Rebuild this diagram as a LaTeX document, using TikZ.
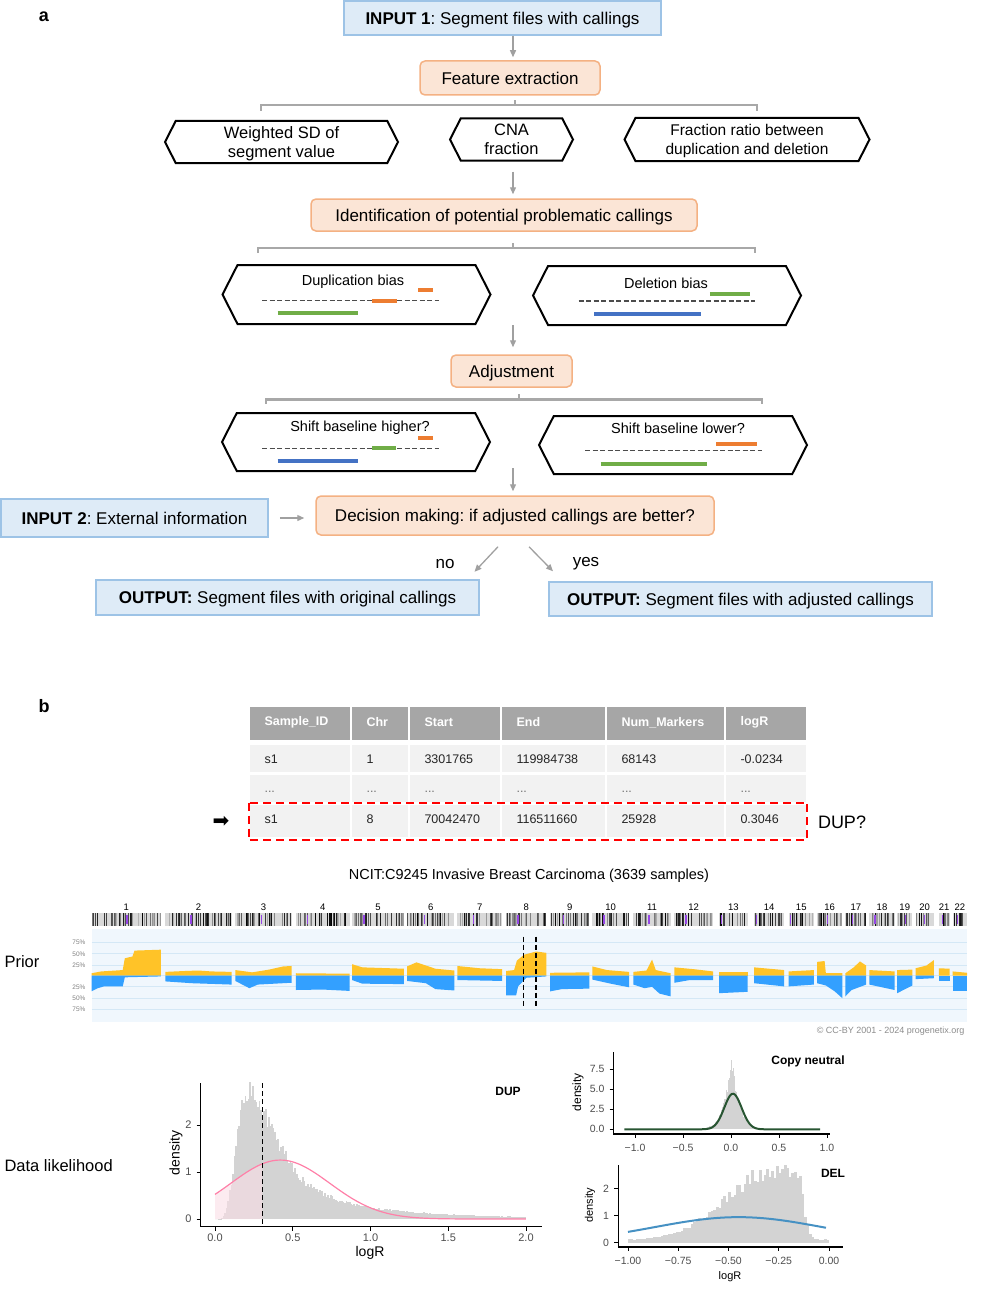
\documentclass[tikz,border=0pt]{standalone}
\usepackage{fontspec}
\setmainfont{Liberation Sans}
\newfontfamily\glyphfont{DejaVu Sans}
\usetikzlibrary{arrows.meta,shapes.symbols,calc}
\frenchspacing
\definecolor{fillblue}{RGB}{222,235,247}
\definecolor{lineblue}{RGB}{157,195,230}
\definecolor{fillpeach}{RGB}{251,229,214}
\definecolor{lineorange}{RGB}{244,177,131}
\definecolor{arrgray}{RGB}{160,160,160}
\definecolor{brkgray}{RGB}{168,168,168}
\definecolor{barorange}{RGB}{237,125,49}
\definecolor{bargreen}{RGB}{112,173,71}
\definecolor{barblue}{RGB}{68,114,196}
\definecolor{headgray}{RGB}{166,166,166}
\definecolor{cellgray}{RGB}{242,242,242}
\definecolor{gainyellow}{RGB}{255,195,40}
\definecolor{lossblue}{RGB}{51,160,255}
\definecolor{plotbg}{RGB}{240,247,253}
\definecolor{gridblue}{RGB}{212,232,246}
\definecolor{cenviolet}{RGB}{150,70,230}
\definecolor{histgray}{RGB}{211,211,211}
\definecolor{dupcurve}{RGB}{255,128,168}
\definecolor{dupshade}{RGB}{250,222,230}
\definecolor{cncurve}{RGB}{40,85,50}
\definecolor{delcurve}{RGB}{70,145,195}
\definecolor{ticktext}{RGB}{77,77,77}
\newcommand{\fsz}[2]{\fontsize{#1pt}{#2pt}\selectfont}
\tikzset{>/.tip={Triangle[length=7pt,width=6pt]}}

% one chromosome: label, start, end, centromere, gain and loss profile
\newcommand{\chrom}[6]{%
  \pgfmathsetmacro{\chrlen}{#3-#2}
  \node[chrlabel] (chr#1) at ({(#2+#3)/2},907) {#1};
  \fill[gray!30] (#2,913) rectangle (#3,926);
  \pgfmathtruncatemacro{\nband}{\chrlen/1.6}
  \foreach \k in {1,...,\nband} {
    \pgfmathsetmacro{\bx}{#2+rnd*(\chrlen-1)}
    \pgfmathtruncatemacro{\bg}{30+70*rnd}
    \fill[black!\bg] (\bx,913) rectangle ++(0.9,13);
  }
  \fill[cenviolet] ({#2+#4*\chrlen},915) rectangle ++(1.3,9);
  \begin{scope}[shift={(#2,975.5)}, x=\chrlen pt]
    \fill[gainyellow, y=0.453pt] (0,0) -- plot coordinates {#5} -- (1,0) -- cycle;
    \fill[lossblue, y=-0.453pt] (0,0) -- plot coordinates {#6} -- (1,0) -- cycle;
  \end{scope}
}

\begin{document}
\begin{tikzpicture}[x=1pt, y=-1pt,
  inbox/.style={draw=lineblue, fill=fillblue, line width=1.5pt, inner sep=0pt, text depth=0pt, font=\fsz{17}{20}},
  stepbox/.style={draw=lineorange, fill=fillpeach, line width=1.5pt, rounded corners=5pt, inner sep=0pt, text depth=0pt, font=\fsz{17}{20}},
  hexa/.style={signal, signal to=west and east, signal pointer angle=126, draw=black, line width=2pt, inner sep=0pt, text depth=0pt, align=center, font=\fsz{16.5}{19}},
  biastitle/.style={font=\fsz{14.5}{17}},
  arr/.style={->, draw=arrgray, line width=1.3pt},
  brk/.style={draw=brkgray, line width=2.5pt},
  baseln/.style={draw=black!70, line width=1.2pt, dash pattern=on 5pt off 2.5pt},
  segbar/.style={line width=4pt},
  lbl/.style={font=\fsz{17}{20}},
  panel/.style={font=\bfseries\fsz{18}{20}},
  headtxt/.style={anchor=west, text=white, font=\bfseries\fsz{12.5}{14}},
  celltxt/.style={anchor=west, text=black!85, font=\fsz{12.5}{14}},
  chrlabel/.style={font=\fsz{9.5}{10}},
  pcttxt/.style={anchor=east, text=black!50, font=\fsz{6.5}{8}},
  vline/.style={draw=black, line width=1.4pt, dash pattern=on 5pt off 3pt},
  axis/.style={draw=black, line width=1.3pt},
  ticktxt/.style={text=ticktext, font=\fsz{11}{12}},
  smalltick/.style={text=ticktext, font=\fsz{10.5}{12}},
  sidelbl/.style={anchor=west, font=\fsz{16.5}{19}}]
\useasboundingbox (0,0) rectangle (989,1295);
\pgfmathsetseed{4242}

% ---------- panel a ----------
\node[panel] (pa) at (44,17) {a};
\coordinate (spine) at (513,0);

\node[inbox, minimum width=317pt, minimum height=34pt] (in1) at (502.5,18) {\textbf{INPUT 1}: Segment files with callings};
\node[stepbox, minimum width=180pt, minimum height=34pt] (feat) at (510,78) {Feature extraction};

\node[hexa, minimum width=233pt, minimum height=42pt] (wsd) at (281.5,142) {Weighted SD of\\segment value};
\node[hexa, minimum width=123pt, minimum height=42pt] (cna) at (511.5,139.5) {CNA\\fraction};
\node[hexa, minimum width=245pt, minimum height=43pt, font=\fsz{15.5}{19}] (frac) at (747,139.5) {Fraction ratio between\\duplication and deletion};

\node[stepbox, minimum width=386pt, minimum height=32pt] (ident) at (504,215) {Identification of potential problematic callings};

\node[hexa, minimum width=268pt, minimum height=59pt] (dup) at (356.5,294.5) {};
\node[hexa, minimum width=268pt, minimum height=59pt] (del) at (667,295.5) {};
\node[biastitle] (duptitle) at (353,282) {Duplication bias};
\node[biastitle] (deltitle) at (666,283) {Deletion bias};

\node[stepbox, minimum width=121pt, minimum height=32pt] (adj) at (511.5,371) {Adjustment};

\node[hexa, minimum width=268pt, minimum height=58pt] (hi) at (356,442) {};
\node[hexa, minimum width=268pt, minimum height=58pt] (lo) at (673,445) {};
\node[biastitle] (hititle) at (360,428) {Shift baseline higher?};
\node[biastitle] (lotitle) at (678,428) {Shift baseline lower?};

\node[inbox, minimum width=267pt, minimum height=38pt] (in2) at (134.5,518) {\textbf{INPUT 2}: External information};
\node[stepbox, minimum width=398pt, minimum height=39pt] (dec) at (515,515.5) {Decision making: if adjusted callings are better?};

\node[inbox, minimum width=383pt, minimum height=35pt] (outl) at (287.5,597.5) {\textbf{OUTPUT:} Segment files with original callings};
\node[inbox, minimum width=383pt, minimum height=34pt] (outr) at (740.5,599) {\textbf{OUTPUT:} Segment files with adjusted callings};

\node[lbl] (no) at (445,564) {no};
\node[lbl] (yes) at (586,564) {yes};

% bias sketches
\draw[segbar, barorange] (418,290.3) -- (433,290.3);
\draw[baseln] (262,300.7) -- (438.5,300.7);
\draw[segbar, barorange] (372,300.7) -- (397,300.7);
\draw[segbar, bargreen] (277.6,313) -- (358.4,313);

\draw[segbar, bargreen] (709.8,294) -- (749.5,294);
\draw[baseln] (578.5,301) -- (755,301);
\draw[segbar, barblue] (594,314.3) -- (701,314.3);

\draw[segbar, barorange] (418,438.3) -- (433,438.3);
\draw[baseln] (262,448.3) -- (438.5,448.3);
\draw[segbar, bargreen] (372,448.3) -- (396,448.3);
\draw[segbar, barblue] (277.6,460.7) -- (358.4,460.7);

\draw[segbar, barorange] (716,443.7) -- (756.5,443.7);
\draw[baseln] (585,450.3) -- (761.5,450.3);
\draw[segbar, bargreen] (600.6,464.3) -- (707.3,464.3);

% brackets
\coordinate (b1l) at (261,111);
\coordinate (b1m) at (515,105);
\coordinate (b1r) at (757,111);
\coordinate (b2l) at (258,253);
\coordinate (b2m) at (513,248);
\coordinate (b2r) at (755,253);
\coordinate (b3l) at (266,404);
\coordinate (b3m) at (519,399.5);
\coordinate (b3r) at (762,404);
\draw[brk] (b1l) |- (b1m) -| (b1r);
\draw[brk] (b1m) -- ++(0,-5);
\draw[brk] (b2l) |- (b2m) -| (b2r);
\draw[brk] (b2m) -- ++(0,-5);
\draw[brk] (b3l) |- (b3m) -| (b3r);
\draw[brk] (b3m) -- ++(0,-5.5);

% arrows
\draw[arr, shorten >=3pt] (in1.south -| spine) -- (feat.north -| spine);
\draw[arr, shorten <=10pt, shorten >=4pt] (cna.south -| spine) -- (ident.north -| spine);
\draw[arr, shorten >=7pt] (dup.south -| spine) -- (adj.north -| spine);
\draw[arr, shorten >=4pt] ($(spine |- hi.south)+(0,-4)$) -- (dec.north -| spine);
\draw[arr, shorten <=11pt, shorten >=11pt] (in2.east) -- (in2.east -| dec.west);
\draw[arr] ($(dec.south)+(-17,11)$) -- ($(dec.south)+(-40.5,36)$);
\draw[arr] ($(dec.south)+(14,11)$) -- ($(dec.south)+(38,35.5)$);

% ---------- panel b ----------
\node[panel] (pb) at (44,706) {b};

\foreach \l/\r/\hd/\va/\vc [count=\c] in {
    250/350/Sample\_ID/s1/s1,
    352/408/Chr/1/8,
    410/500/Start/3301765/70042470,
    502/605/End/119984738/116511660,
    607/724/Num\_Markers/68143/25928,
    726/806/logR/-0.0234/0.3046} {
  \fill[headgray] (\l,707) rectangle (\r,740);
  \fill[cellgray] (\l,745) rectangle (\r,772);
  \fill[cellgray] (\l,775) rectangle (\r,802);
  \fill[cellgray] (\l,805) rectangle (\r,837);
  \node[headtxt] (hd\c) at (\l+11,722.5) {\hd};
  \node[celltxt] (ra\c) at (\l+11,759.5) {\va};
  \node[celltxt, text=black!55] (rb\c) at (\l+11,792) {...};
  \node[celltxt] (rc\c) at (\l+11,819.5) {\vc};
}
\draw[red, line width=2pt, dash pattern=on 8pt off 5pt] (248.5,802.5) rectangle (807,840);
\node[font=\glyphfont\fsz{20}{20}] (rowmark) at (221,822) {➡};
\node[font=\fsz{18}{20}] (dupq) at (842,822) {DUP?};

\node[font=\fsz{14.5}{16}] (title) at (529,876) {NCIT:C9245 Invasive Breast Carcinoma (3639 samples)};

% genome profile
\node[sidelbl] (prior) at (1,962) {Prior};
\fill[plotbg] (91.5,929) rectangle (967,1022);
\foreach \gy in {942.5,953.8,965.2,975.5,986.8,998.2,1009.5}
  \draw[gridblue, line width=0.8pt] (91.5,\gy) -- (967,\gy);
\foreach \gy/\gl [count=\pi] in {942.5/75\%,953.8/50\%,965.2/25\%,986.8/25\%,998.2/50\%,1009.5/75\%}
  \node[pcttxt] (pct\pi) at (89,\gy) {\gl};

\chrom{1}{91.5}{160.9}{0.5}{(0,5) (0.14,9) (0.45,12) (0.48,38) (0.59,42) (0.62,55) (1,57)}{(0,35) (0.09,28) (0.18,24) (0.45,24) (0.48,4) (1,2)}
\chrom{2}{165.3}{231.5}{0.38}{(0,8) (0.3,10) (0.5,11) (0.7,9) (1,8)}{(0,13) (0.4,17) (0.8,19) (1,20)}
\chrom{3}{235.3}{291.5}{0.45}{(0,12) (0.3,7) (0.6,13) (0.85,20) (1,21)}{(0,12) (0.25,28) (0.4,20) (1,16)}
\chrom{4}{295.9}{349.5}{0.2}{(0,5) (1,4)}{(0,32) (0.5,31) (1,34)}
\chrom{5}{352}{403.8}{0.22}{(0,25) (0.2,18) (1,15)}{(0,10) (0.2,18) (1,19)}
\chrom{6}{407}{454.3}{0.35}{(0,20) (0.2,29) (0.6,15) (1,11)}{(0,12) (0.4,17) (0.6,30) (1,33)}
\chrom{7}{457.4}{502.2}{0.35}{(0,21) (0.5,16) (1,14)}{(0,10) (1,12)}
\chrom{8}{506}{546.4}{0.28}{(0,10) (0.2,12) (0.27,33) (0.45,46) (0.75,53) (1,50)}{(0,44) (0.25,44) (0.3,24) (0.5,5) (1,2)}
\chrom{9}{550.2}{589.3}{0.33}{(0,6) (1,7)}{(0,35) (0.3,30) (1,29)}
\chrom{10}{592.4}{629}{0.3}{(0,20) (0.4,12) (1,8)}{(0,9) (0.5,18) (1,26)}
\chrom{11}{633.4}{670.7}{0.4}{(0,8) (0.35,11) (0.5,35) (0.6,12) (1,5)}{(0,20) (0.3,28) (0.5,25) (0.7,40) (1,46)}
\chrom{12}{674.4}{713}{0.28}{(0,18) (0.5,14) (1,9)}{(0,16) (0.4,10) (1,10)}
\chrom{13}{719.2}{747.6}{0.05}{(0,7) (1,7)}{(0,39) (1,36)}
\chrom{14}{754}{784.2}{0.05}{(0,18) (1,12)}{(0,17) (1,24)}
\chrom{15}{788.6}{813.9}{0.05}{(0,9) (1,12)}{(0,24) (1,20)}
\chrom{16}{817}{842.3}{0.4}{(0,30) (0.3,32) (0.35,5) (1,5)}{(0,17) (0.35,22) (0.7,35) (1,50)}
\chrom{17}{845.4}{866.2}{0.3}{(0,5) (0.4,18) (0.7,31) (1,22)}{(0,46) (0.3,32) (1,20)}
\chrom{18}{869.4}{894.6}{0.2}{(0,12) (1,9)}{(0,20) (1,32)}
\chrom{19}{897.2}{912.3}{0.5}{(0,12) (1,13)}{(0,39) (1,22)}
\chrom{20}{915.5}{933.8}{0.45}{(0,16) (0.6,22) (1,34)}{(0,8) (1,6)}
\chrom{21}{938.8}{949.5}{0.3}{(0,16) (1,15)}{(0,13) (1,13)}
\chrom{22}{952.7}{967.2}{0.3}{(0,9) (1,6)}{(0,35) (1,35)}

\draw[vline] (523.5,936.5) -- (523.5,1008);
\draw[vline] (536,936.5) -- (536,1008);
\node[anchor=east, font=\fsz{9}{10}, text=black!45] (cc) at (968,1031.5) {© CC-BY 2001 - 2024 progenetix.org};

% DUP likelihood
\node[sidelbl] (datalik) at (1,1166) {Data likelihood};
\begin{scope}[shift={(215,1219)}, x=155.5pt, y=47pt]
  \foreach \i in {0,...,199} {
    \pgfmathsetmacro{\xc}{(\i+0.5)*0.01}
    \pgfmathsetmacro{\lq}{ln(\xc/0.23)}
    \pgfmathsetmacro{\sq}{min(\xc/0.15,2)}
    \pgfmathsetmacro{\hh}{(2.0*exp(max(-10,-\lq*\lq/0.5)) + 1.135*exp(-1.64*\xc)*(1-exp(-\sq*\sq*\sq*\sq)))*(0.9+0.2*rnd)}
    \fill[histgray] ({\i*0.01},0) rectangle ({(\i+1)*0.01+0.002},\hh);
  }
  \fill[dupshade, fill opacity=0.6] (0,0) -- plot[domain=0:0.3046, samples=20] (\x,{1.254*exp(-(\x-0.42)*(\x-0.42)/0.2022)}) -- (0.3046,0) -- cycle;
  \draw[dupcurve, line width=1.2pt] plot[domain=0:2, samples=120] (\x,{1.254*exp(max(-10,-(\x-0.42)*(\x-0.42)/0.2022))});
\end{scope}
\draw[vline, line width=1.3pt] (262.4,1083) -- (262.4,1226.5);
\draw[axis] (200.5,1083) -- (200.5,1226.5) -- (542,1226.5);
\foreach \v/\t [count=\k] in {0/0.0,0.5/0.5,1/1.0,1.5/1.5,2/2.0} {
  \draw[axis, line width=1pt] ({215+155.5*\v},1226.5) -- ++(0,4);
  \node[ticktxt] (dx\k) at ({215+155.5*\v},1238) {\t};
}
\foreach \v [count=\k] in {0,1,2} {
  \draw[axis, line width=1pt] (196.5,{1219-47*\v}) -- (200.5,{1219-47*\v});
  \node[ticktxt, anchor=east] (dy\k) at (195,{1219-47*\v}) {\v};
}
\node[rotate=90, font=\fsz{14}{16}] (dupyl) at (176,1153) {density};
\node[font=\fsz{14}{16}] (dupxl) at (370,1253) {logR};
\node[font=\bfseries\fsz{12}{14}] (duplab) at (508,1091) {DUP};

% copy neutral likelihood
\begin{scope}[shift={(731,1129.3)}, x=96pt, y=8.04pt]
  \foreach \i in {0,...,59} {
    \pgfmathsetmacro{\xc}{-0.3+(\i+0.5)*0.01}
    \pgfmathsetmacro{\hh}{9.3*exp(-abs(\xc-0.005)/0.07)*(0.88+0.24*rnd)}
    \fill[histgray] ({-0.3+\i*0.01},0) rectangle ({-0.3+(\i+1)*0.01+0.002},\hh);
  }
  \draw[cncurve, line width=2pt] plot[domain=-1.11:0.93, samples=150] (\x,{4.43*exp(max(-10,-(\x-0.02)*(\x-0.02)/0.0162))});
\end{scope}
\draw[axis] (613.5,1052) -- (613.5,1134) -- (830,1134);
\foreach \v/\t [count=\k] in {-1/−1.0,-0.5/−0.5,0/0.0,0.5/0.5,1/1.0} {
  \draw[axis, line width=1pt] ({731+96*\v},1134) -- ++(0,4);
  \node[smalltick] (cx\k) at ({731+96*\v},1147.5) {\t};
}
\foreach \v/\t [count=\k] in {0/0.0,2.5/2.5,5/5.0,7.5/7.5} {
  \draw[axis, line width=1pt] (609.5,{1129.3-8.04*\v}) -- (613.5,{1129.3-8.04*\v});
  \node[smalltick, anchor=east] (cy\k) at (608,{1129.3-8.04*\v}) {\t};
}
\node[rotate=90, font=\fsz{12}{14}] (cnyl) at (578,1092) {density};
\node[font=\bfseries\fsz{12}{14}] (cnlab) at (808,1061) {Copy neutral};

% DEL likelihood
\begin{scope}[shift={(829,1242.7)}, x=201pt, y=26.9pt]
  \foreach \i in {0,...,79} {
    \pgfmathsetmacro{\xc}{-1+(\i+0.5)*0.0125}
    \pgfmathsetmacro{\zl}{(\xc+0.27)/0.233}
    \pgfmathsetmacro{\ez}{max(-9,min(9,(\xc+0.125)/0.012))}
    \pgfmathsetmacro{\hh}{ifthenelse(\xc<-0.27, 0.1+2.6*exp(-\zl*\zl/2), 0.12+2.6/(1+exp(\ez)))*(0.88+0.24*rnd)}
    \fill[histgray] ({-1+\i*0.0125},0) rectangle ({-1+(\i+1)*0.0125+0.002},\hh);
  }
  \draw[delcurve, line width=2pt] plot[domain=-1:-0.015, samples=100] (\x,{0.95*exp(-(\x+0.45)*(\x+0.45)/0.3528)});
\end{scope}
\draw[axis] (618.3,1165) -- (618.3,1247) -- (843,1247);
\foreach \v/\t [count=\k] in {-1/−1.00,-0.75/−0.75,-0.5/−0.50,-0.25/−0.25,0/0.00} {
  \draw[axis, line width=1pt] ({829+201*\v},1247) -- ++(0,4);
  \node[smalltick] (ex\k) at ({829+201*\v},1260.5) {\t};
}
\foreach \v [count=\k] in {0,1,2} {
  \draw[axis, line width=1pt] (614.3,{1242.7-26.9*\v}) -- (618.3,{1242.7-26.9*\v});
  \node[smalltick, anchor=east] (ey\k) at (612.5,{1242.7-26.9*\v}) {\v};
}
\node[rotate=90, font=\fsz{11}{13}] (delyl) at (590,1205) {density};
\node[font=\fsz{11}{13}] (delxl) at (730,1277) {logR};
\node[font=\bfseries\fsz{12}{14}] (dellab) at (833,1173) {DEL};
\end{tikzpicture}
\end{document}
